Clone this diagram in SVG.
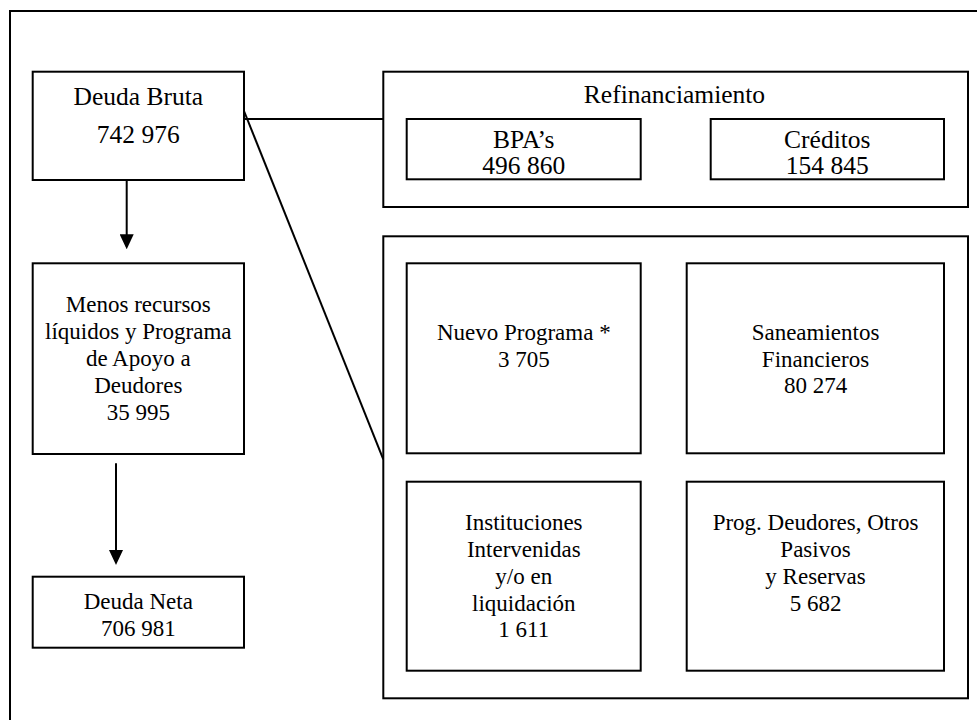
<svg xmlns="http://www.w3.org/2000/svg" width="977" height="720" viewBox="0 0 977 720">
  <style>
    .box { fill: #ffffff; stroke: #000000; stroke-width: 2; }
    .frame { fill: none; stroke: #000000; stroke-width: 2; }
    .wire { fill: none; stroke: #000000; stroke-width: 2; }
    text { font-family: "Liberation Serif", "Times New Roman", serif; fill: #000000; text-anchor: middle; }
    .lg { font-size: 25.5px; }
    .md { font-size: 23px; }
  </style>
  <defs>
    <marker id="arrowhead" markerUnits="userSpaceOnUse" viewBox="0 0 15 14" refX="12" refY="7" markerWidth="15" markerHeight="14" orient="auto">
      <path d="M0,0 L15,7 L0,14 Z" fill="#000000"/>
    </marker>
  </defs>

  <rect width="977" height="720" fill="#ffffff"/>

  <!-- page frame (open to the right and bottom) -->
  <path class="frame" d="M10,720 V11 H977"/>

  <!-- connectors -->
  <g id="connectors">
    <path class="wire" d="M126.7,180 V246.3" marker-end="url(#arrowhead)"/>
    <path class="wire" d="M116,463.3 V562" marker-end="url(#arrowhead)"/>
    <path class="wire" d="M244,119 H383.3"/>
    <path class="wire" d="M244,111 L383.3,459.3"/>
  </g>

  <!-- left column -->
  <g id="deuda-bruta">
    <rect class="box" x="32.7" y="71.7" width="211.3" height="108.3"/>
    <text class="lg" x="138.3" y="105">Deuda Bruta</text>
    <text class="lg" x="138.3" y="143">742 976</text>
  </g>

  <g id="menos-recursos">
    <rect class="box" x="32.7" y="263.3" width="211.3" height="190.7"/>
    <text class="md" x="138.3" y="312">Menos recursos</text>
    <text class="md" x="138.3" y="339">líquidos y Programa</text>
    <text class="md" x="138.3" y="366">de Apoyo a</text>
    <text class="md" x="138.3" y="393">Deudores</text>
    <text class="md" x="138.3" y="420">35 995</text>
  </g>

  <g id="deuda-neta">
    <rect class="box" x="32.7" y="576.7" width="211.3" height="71"/>
    <text class="md" x="138.3" y="609">Deuda Neta</text>
    <text class="md" x="138.3" y="636">706 981</text>
  </g>

  <!-- refinancing group -->
  <g id="refinanciamiento">
    <rect class="box" x="383.3" y="71.7" width="584.7" height="135.3"/>
    <text class="lg" x="674.5" y="103.3">Refinanciamiento</text>
  </g>

  <g id="bpas">
    <rect class="box" x="406.7" y="119" width="234" height="60.3"/>
    <text class="lg" x="523.8" y="148.3">BPA’s</text>
    <text class="lg" x="523.8" y="174">496 860</text>
  </g>

  <g id="creditos">
    <rect class="box" x="710.7" y="119" width="233.3" height="60.3"/>
    <text class="lg" x="827.3" y="148.3">Créditos</text>
    <text class="lg" x="827.3" y="174">154 845</text>
  </g>

  <!-- other components group -->
  <g id="otros">
    <rect class="box" x="383.3" y="236.3" width="584.7" height="462"/>
  </g>

  <g id="nuevo-programa">
    <rect class="box" x="406.7" y="263.3" width="234" height="190"/>
    <text class="md" x="523.8" y="340">Nuevo Programa *</text>
    <text class="md" x="523.8" y="366.7">3 705</text>
  </g>

  <g id="saneamientos">
    <rect class="box" x="686.7" y="263.3" width="257.3" height="190"/>
    <text class="md" x="815.5" y="340">Saneamientos</text>
    <text class="md" x="815.5" y="366.7">Financieros</text>
    <text class="md" x="815.5" y="393">80 274</text>
  </g>

  <g id="instituciones">
    <rect class="box" x="406.7" y="481.7" width="234" height="189"/>
    <text class="md" x="523.8" y="530">Instituciones</text>
    <text class="md" x="523.8" y="556.7">Intervenidas</text>
    <text class="md" x="523.8" y="584">y/o en</text>
    <text class="md" x="523.8" y="610.7">liquidación</text>
    <text class="md" x="523.8" y="636.7">1 611</text>
  </g>

  <g id="prog-deudores">
    <rect class="box" x="686.7" y="481.7" width="257.3" height="189"/>
    <text class="md" x="815.5" y="530">Prog. Deudores, Otros</text>
    <text class="md" x="815.5" y="557.3">Pasivos</text>
    <text class="md" x="815.5" y="584">y Reservas</text>
    <text class="md" x="815.5" y="610.7">5 682</text>
  </g>
</svg>
